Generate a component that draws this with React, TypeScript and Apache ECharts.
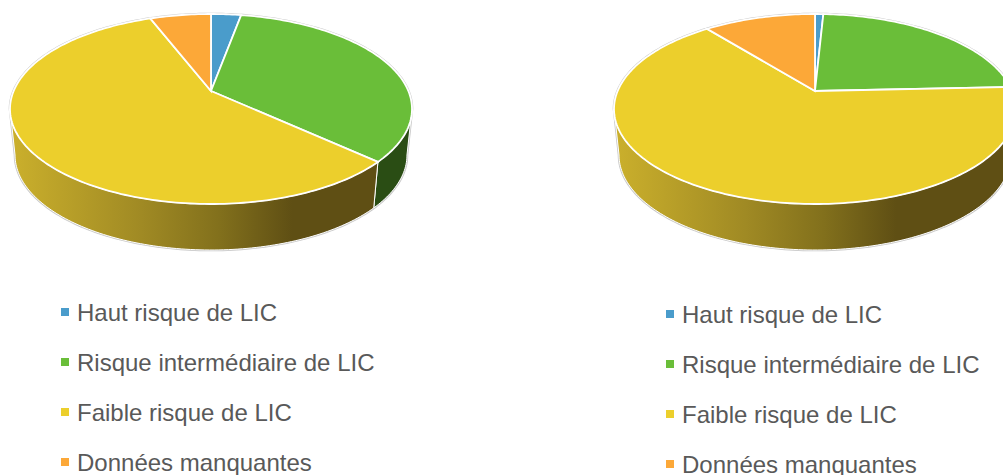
import React, { useEffect, useRef } from "react";
import * as echarts from "echarts";

const categories = ["Haut risque de LIC", "Risque intermédiaire de LIC", "Faible risque de LIC", "Données manquantes"];
const leftValues = [2.9, 33.9, 57.3, 5.9];
const rightValues = [0.8, 23.5, 64.9, 10.8];
const topColors = ["#4a9ccb", "#6abe39", "#eccf2c", "#fca838"];
const wallStops = [
  ["#2f6a8a", "#2f6a8a"],
  ["#2a4d14", "#2a4d14"],
  ["#cbb02c", "#a08a24", "#82701c", "#5f4f14", "#5f4f14"],
  ["#a5702a", "#a5702a"],
];

const APEX_Y = 91;
const TOP_REACH = 77;
const BOTTOM_REACH = 113;
const WIDTH_REACH = 201;
const DEPTH = 46;
const BASE_SCALE = 0.975;
const k = (BOTTOM_REACH - TOP_REACH) / (BOTTOM_REACH + TOP_REACH);
const A = TOP_REACH * (1 + k);
const B = WIDTH_REACH * Math.sqrt(1 - k * k);

function project(cx: number, theta: number): [number, number] {
  const u = Math.sin(theta);
  const v = -Math.cos(theta);
  const w = 1 - k * v;
  return [cx + (B * u) / w, APEX_Y + (A * v) / w];
}

// angle where the rim reaches its horizontal extreme (clockwise from top)
const rightExtreme = Math.PI - Math.acos(k);
const leftExtreme = Math.PI + Math.acos(k);

function arc(cx: number, a0: number, a1: number, base = false): [number, number][] {
  const n = Math.max(2, Math.ceil(Math.abs(a1 - a0) / 0.02));
  const pts: [number, number][] = [];
  for (let i = 0; i <= n; i++) {
    const p = project(cx, a0 + ((a1 - a0) * i) / n);
    pts.push(base ? [cx + (p[0] - cx) * BASE_SCALE, p[1] + DEPTH] : p);
  }
  return pts;
}

function pieRenderer(values: number[], cx: number) {
  const total = values.reduce((s, v) => s + v, 0);
  return (params: any, api: any) => {
    const i = params.dataIndex;
    const start = values.slice(0, i).reduce((s, v) => s + v, 0);
    const a0 = (start / total) * Math.PI * 2;
    const a1 = ((start + api.value(0)) / total) * Math.PI * 2;
    const children: any[] = [];
    if (i === 0) {
      const silhouette = [
        ...arc(cx, leftExtreme, Math.PI * 2 + rightExtreme),
        ...arc(cx, rightExtreme, leftExtreme, true),
      ];
      children.push({
        type: "polygon",
        z2: 0,
        shape: { points: silhouette },
        style: { fill: "#fff", stroke: "#c8c8c8", lineWidth: 2.6 },
      });
    }
    const w0 = Math.max(a0, rightExtreme);
    const w1 = Math.min(a1, leftExtreme);
    if (w1 > w0) {
      const stops = wallStops[i];
      const gradient = new echarts.graphic.LinearGradient(
        cx - WIDTH_REACH,
        0,
        cx + 90,
        0,
        stops.map((color: string, s: number) => ({
          offset: [0, 0.45, 0.72, 0.97, 1][stops.length === 2 ? s * 4 : s],
          color,
        })),
        true as any,
      );
      children.push({
        type: "polygon",
        z2: 1,
        shape: { points: [...arc(cx, w0, w1), ...arc(cx, w1, w0, true)] },
        style: { fill: gradient, stroke: "#fff", lineWidth: 1 },
      });
    }
    children.push({
      type: "polygon",
      z2: 2,
      shape: { points: [[cx, APEX_Y], ...arc(cx, a0, a1)] },
      style: { fill: topColors[i], stroke: "#fff", lineWidth: 1.8 },
    });
    return { type: "group", children };
  };
}

const legendBase = {
  orient: "vertical",
  icon: "rect",
  itemWidth: 8,
  itemHeight: 8,
  itemGap: 26,
  selectedMode: false,
  data: categories,
  height: 260,
  padding: 0,
  textStyle: {
    fontFamily: "Liberation Sans",
    fontSize: 24,
    color: "#595959",
    lineHeight: 20,
    padding: [0, 0, 0, 3],
  },
};

export default function App() {
  const ref = useRef<HTMLDivElement>(null);
  useEffect(() => {
    document.body.style.margin = "0";
    const chart = echarts.init(ref.current!, null, { renderer: "svg" });
    chart.setOption({
      animation: false,
      legend: [
        { ...legendBase, left: 61, top: 300 },
        { ...legendBase, left: 666, top: 302 },
      ],
      series: [
        ...categories.map((name, i) => ({
          type: "custom",
          name,
          coordinateSystem: "none",
          itemStyle: { color: topColors[i] },
          data: [],
          renderItem: () => null,
        })),
        {
          type: "custom",
          coordinateSystem: "none",
          renderItem: pieRenderer(leftValues, 211),
          data: leftValues.map((v) => [v]),
          silent: true,
        },
        {
          type: "custom",
          coordinateSystem: "none",
          renderItem: pieRenderer(rightValues, 815),
          data: rightValues.map((v) => [v]),
          silent: true,
        },
      ],
    });
    return () => chart.dispose();
  }, []);
  return <div ref={ref} style={{ width: 1003, height: 475 }} />;
}
